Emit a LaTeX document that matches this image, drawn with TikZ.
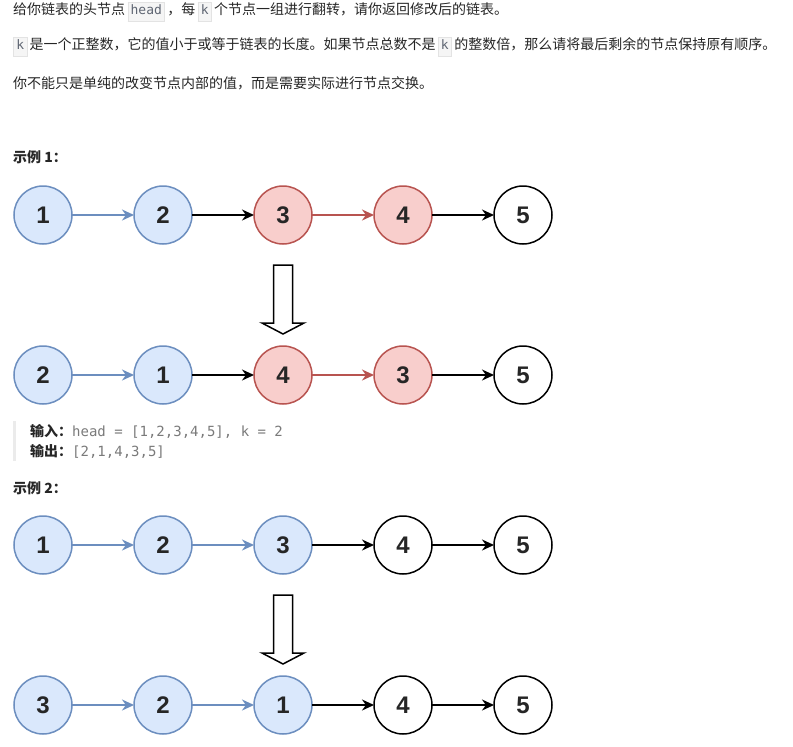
\documentclass[tikz,border=0pt]{standalone}
\usepackage{fontspec}
\setmainfont{Noto Sans CJK SC}
\setmonofont{DejaVu Sans Mono}
\newfontfamily\numfont{Liberation Sans}
\usetikzlibrary{arrows.meta,positioning}
\definecolor{bluefill}{HTML}{DAE8FC}
\definecolor{blueline}{HTML}{6C8EBF}
\definecolor{redfill}{HTML}{F8CECC}
\definecolor{redline}{HTML}{B85450}
\definecolor{textcol}{HTML}{262626}
\definecolor{codecol}{HTML}{7A7A7A}
\definecolor{chiptext}{HTML}{5F6673}
\definecolor{chipfill}{HTML}{F5F5F5}
\definecolor{chipline}{HTML}{E3E3E3}
\definecolor{barcol}{HTML}{EBEBEB}
\newcommand{\chip}[1]{{\setlength{\fboxsep}{2.5pt}\setlength{\fboxrule}{0.6pt}\fcolorbox{chipline}{chipfill}{\fontsize{13}{13}\selectfont\ttfamily\color{chiptext}\strut#1}}}

\begin{document}
\begin{tikzpicture}[
    x=1pt, y=-1pt,
    node distance=62pt,
    every node/.style={text=textcol},
    listnode/.style={circle, draw, line width=1.5pt, minimum size=58pt, inner sep=0pt, outer sep=0pt, font=\numfont\bfseries\fontsize{24}{24}\selectfont},
    bluenode/.style={listnode, draw=blueline, fill=bluefill},
    rednode/.style={listnode, draw=redline, fill=redfill},
    plainnode/.style={listnode, draw=black, fill=white},
    link/.style={-{Stealth[length=12pt,width=11pt]}, line width=1.5pt},
    bluelink/.style={link, blueline},
    redlink/.style={link, redline},
    blacklink/.style={link, black},
    para/.style={anchor=west, inner sep=0pt, font=\fontsize{14}{14}\selectfont},
    heading/.style={anchor=west, inner sep=0pt, font=\fontsize{14}{14}\selectfont\bfseries},
    bigarrow/.style={draw=black, line width=1.5pt, fill=white},
    downarrow/.pic={\draw[bigarrow] (-9.5,0) -- (9.5,0) -- (9.5,58) -- (21,58) -- (0,69) -- (-21,58) -- (-9.5,58) -- cycle;}
    ]
    \useasboundingbox[fill=white] (0,0) rectangle (793,747);
    % Problem text
    \node[para] (line1) at (13,12) {给你链表的头节点\,\chip{head}\,，每\,\chip{k}\,个节点一组进行翻转，请你返回修改后的链表。};
    \node[para] (line2) at (13,47) {\chip{k}\,是一个正整数，它的值小于或等于链表的长度。如果节点总数不是\,\chip{k}\,的整数倍，那么请将最后剩余的节点保持原有顺序。};
    \node[para] (line3) at (13,83) {你不能只是单纯的改变节点内部的值，而是需要实际进行节点交换。};
    % Example 1
    \node[heading] (ex1) at (13,157) {示例 1：};
    \node[bluenode] (a1) at (43,215) {1};
    \node[bluenode, right=of a1] (a2) {2};
    \node[rednode, right=of a2] (a3) {3};
    \node[rednode, right=of a3] (a4) {4};
    \node[plainnode, right=of a4] (a5) {5};
    \draw[bluelink] (a1) -- (a2);
    \draw[blacklink] (a2) -- (a3);
    \draw[redlink] (a3) -- (a4);
    \draw[blacklink] (a4) -- (a5);
    \pic at (283,265) {downarrow};
    \node[bluenode] (b1) at (43,375) {2};
    \node[bluenode, right=of b1] (b2) {1};
    \node[rednode, right=of b2] (b3) {4};
    \node[rednode, right=of b3] (b4) {3};
    \node[plainnode, right=of b4] (b5) {5};
    \draw[bluelink] (b1) -- (b2);
    \draw[blacklink] (b2) -- (b3);
    \draw[redlink] (b3) -- (b4);
    \draw[blacklink] (b4) -- (b5);
    % Input and output
    \draw[barcol, line width=3pt] (14,421) -- (14,461);
    \node[para] (in1) at (30,431) {\textbf{输入：}{\ttfamily\color{codecol}head = [1,2,3,4,5], k = 2}};
    \node[para] (out1) at (30,451) {\textbf{输出：}{\ttfamily\color{codecol}[2,1,4,3,5]}};
    % Example 2
    \node[heading] (ex2) at (13,488) {示例 2：};
    \node[bluenode] (c1) at (43,545) {1};
    \node[bluenode, right=of c1] (c2) {2};
    \node[bluenode, right=of c2] (c3) {3};
    \node[plainnode, right=of c3] (c4) {4};
    \node[plainnode, right=of c4] (c5) {5};
    \draw[bluelink] (c1) -- (c2);
    \draw[bluelink] (c2) -- (c3);
    \draw[blacklink] (c3) -- (c4);
    \draw[blacklink] (c4) -- (c5);
    \pic at (283,595) {downarrow};
    \node[bluenode] (d1) at (43,705) {3};
    \node[bluenode, right=of d1] (d2) {2};
    \node[bluenode, right=of d2] (d3) {1};
    \node[plainnode, right=of d3] (d4) {4};
    \node[plainnode, right=of d4] (d5) {5};
    \draw[bluelink] (d1) -- (d2);
    \draw[bluelink] (d2) -- (d3);
    \draw[blacklink] (d3) -- (d4);
    \draw[blacklink] (d4) -- (d5);
\end{tikzpicture}
\end{document}
